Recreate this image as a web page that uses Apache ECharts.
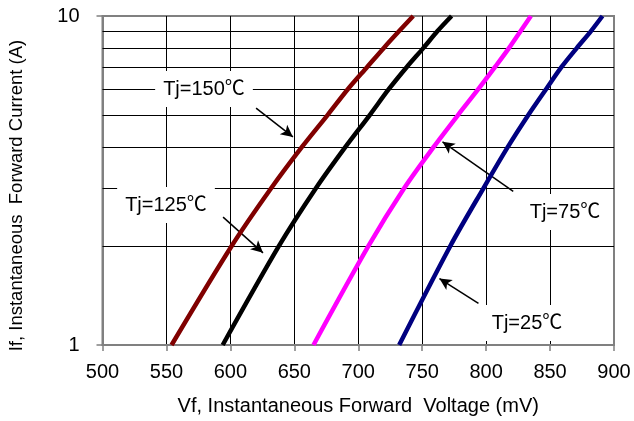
<!DOCTYPE html>
<html>
<head>
<meta charset="utf-8">
<script src="https://cdn.jsdelivr.net/npm/echarts@6/dist/echarts.min.js"></script>
<style>
html,body{margin:0;padding:0;background:#fff;}
#chart{width:634px;height:421px;}
</style>
</head>
<body>
<div id="chart"></div>
<script>
// Forward current values (A)
const currents = [1, 2, 3, 4, 5, 6, 7, 8, 9, 10];
// Forward voltage (mV) at each current for each junction temperature
const vf150 = [554, 601, 632, 656, 676, 692, 707, 720, 732, 743];
const vf125 = [594, 638, 667, 690, 709, 724, 738, 751, 762, 773];
const vf75  = [665, 708, 736, 759, 778, 794, 807, 818, 827, 835];
const vf25  = [732, 772, 798, 817, 833, 847, 859, 871, 882, 891];
// Horizontal minor grid values on log axis
const minorGrid = [2, 3, 4, 5, 6, 7, 8, 9];
// Annotation labels and arrows [from, to] in data coords (mV, A)
const labelTexts = ['Tj=150℃', 'Tj=125℃', 'Tj=75℃', 'Tj=25℃'];
const arrows = [
  [[620.1, 5.25], [648.9, 4.29]],
  [[594.3, 2.447], [625.5, 1.906]],
  [[821.2, 2.93], [765.9, 4.145]],
  [[794.0, 1.338], [763.5, 1.592]]
];

const FONT = "'Liberation Sans', Arial, 'Noto Sans CJK SC', sans-serif";
const chart = echarts.init(document.getElementById('chart'));

function pairs(xs) { return xs.map((v, i) => [v, currents[i]]); }

const lineSeries = [
  {data: pairs(vf150), color: '#800000'},
  {data: pairs(vf125), color: '#000000'},
  {data: pairs(vf75),  color: '#ff00ff'},
  {data: pairs(vf25),  color: '#000080'}
].map(s => ({
  type: 'line',
  data: s.data,
  smooth: 0.3,
  showSymbol: false,
  symbol: 'none',
  z: 5,
  lineStyle: {color: s.color, width: 4.5},
  silent: true
}));

const gridSeries = {
  type: 'line',
  data: [],
  silent: true,
  z: 1,
  markLine: {
    silent: true,
    symbol: 'none',
    label: {show: false},
    lineStyle: {color: '#000', width: 1, type: 'solid'},
    data: minorGrid.map(v => ({yAxis: v}))
  }
};

const arrowSeries = {
  type: 'line',
  data: [],
  silent: true,
  z: 6,
  markLine: {
    silent: true,
    animation: false,
    label: {show: false},
    symbolSize: [9, 12],
    lineStyle: {color: '#000', width: 1.5, type: 'solid'},
    data: arrows.map(a => [
      {coord: a[0], symbol: 'none'},
      {coord: a[1], symbol: 'arrow'}
    ])
  }
};

const labelPos = [[204, 89], [166, 205], [565, 212], [527, 323]];
const labelPad = [[8, 8, 8, 8], [8, 8, 8, 8], [8, 8, 8, 8], [8, 6, 8, 6]];

chart.setOption({
  animation: false,
  backgroundColor: '#fff',
  grid: {left: 101, right: 20, top: 16, bottom: 73, show: true, borderColor: '#808080', borderWidth: 2, backgroundColor: 'transparent'},
  xAxis: {
    type: 'value', min: 500, max: 900, interval: 50,
    name: 'Vf, Instantaneous Forward  Voltage (mV)',
    nameLocation: 'middle', nameGap: 51,
    nameTextStyle: {fontFamily: FONT, fontSize: 20, color: '#000'},
    axisLine: {lineStyle: {color: '#808080', width: 2}},
    axisTick: {show: true, length: 6, lineStyle: {color: '#808080', width: 1.5}},
    axisLabel: {fontFamily: FONT, fontSize: 20, color: '#000', margin: 17},
    splitLine: {show: true, showMinLine: false, showMaxLine: false, lineStyle: {color: '#000', width: 1}}
  },
  yAxis: {
    type: 'log', logBase: 10, min: 1, max: 10,
    name: 'If, Instantaneous  Forward Current (A)',
    nameLocation: 'middle', nameGap: 76, nameRotate: 90,
    nameTextStyle: {fontFamily: FONT, fontSize: 18.5, color: '#000', padding: [0, 30, 0, 0]},
    axisLine: {lineStyle: {color: '#808080', width: 2}},
    axisTick: {show: true, length: 6, lineStyle: {color: '#808080', width: 1.5}},
    axisLabel: {fontFamily: FONT, fontSize: 20, color: '#000', margin: 23},
    splitLine: {show: false},
    minorTick: {show: false},
    minorSplitLine: {show: false}
  },
  graphic: labelTexts.map((t, i) => ({
    type: 'text',
    x: labelPos[i][0],
    y: labelPos[i][1],
    z: 100,
    silent: true,
    style: {
      text: t,
      fontFamily: FONT,
      fontSize: 20,
      fill: '#000',
      align: 'center',
      verticalAlign: 'middle',
      backgroundColor: '#fff',
      padding: labelPad[i]
    }
  })),
  series: [gridSeries, ...lineSeries, arrowSeries]
});
</script>
</body>
</html>
